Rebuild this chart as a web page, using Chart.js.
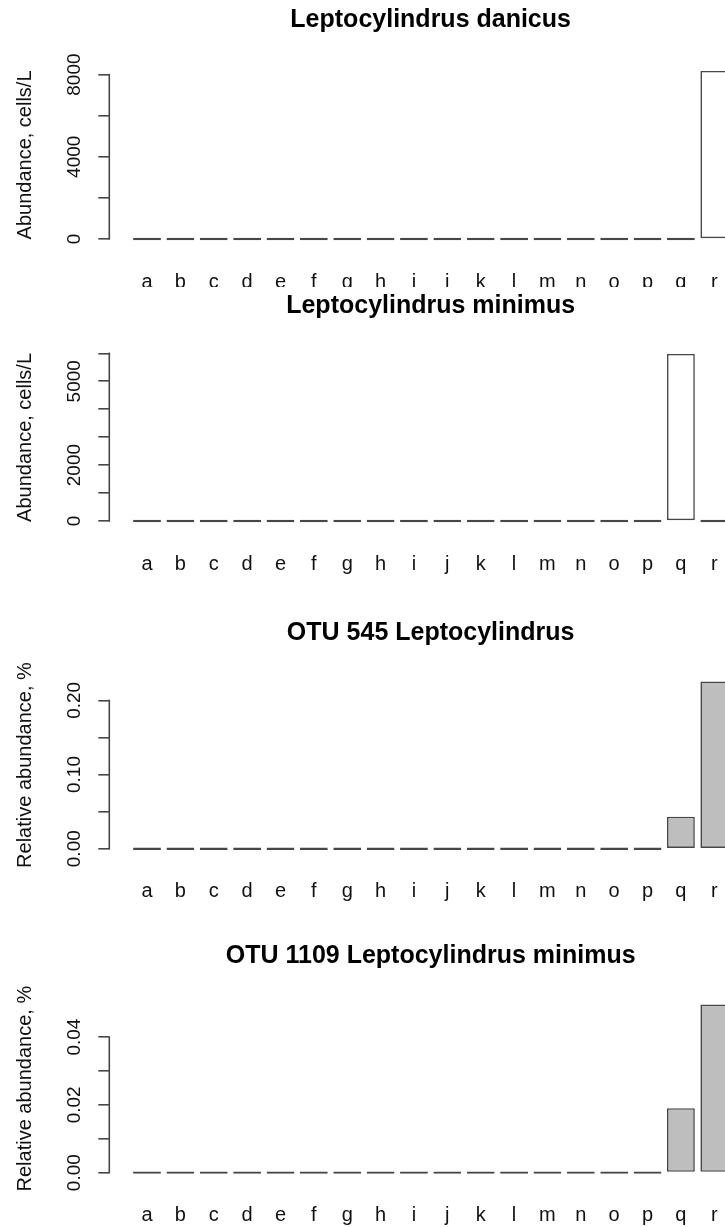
<!DOCTYPE html>
<html>
<head>
<meta charset="utf-8">
<script src="https://cdn.jsdelivr.net/npm/chart.js@4.4.1/dist/chart.umd.min.js"></script>
<style>
  html, body { margin: 0; padding: 0; background: #fff; overflow: hidden; }
  #page { position: relative; width: 725px; height: 1227px; overflow: hidden; background: #fff; }
  .panel { position: absolute; left: 0; width: 725px; overflow: hidden; background: #fff; }
  .panel canvas { position: absolute; left: 0; top: 0; }
</style>
</head>
<body>
<div id="page"></div>
<script>
// Sampling sites, one bar each
const categories = ['a','b','c','d','e','f','g','h','i','j','k','l','m','n','o','p','q','r'];

// Microscopy counts, cells/L
const danicusCells = [0,0,0,0,0,0,0,0,0,0,0,0,0,0,0,0,0,8180];
const minimusCells = [0,0,0,0,0,0,0,0,0,0,0,0,0,0,0,0,5980,0];

// Sequencing reads, relative abundance in %
const otu545Rel  = [0,0,0,0,0,0,0,0,0,0,0,0,0,0,0,0,0.0431,0.2256];
const otu1109Rel = [0,0,0,0,0,0,0,0,0,0,0,0,0,0,0,0,0.0190,0.0496];

// Y tick positions and the labels printed next to them
const danicusTicks  = [0, 2000, 4000, 6000, 8000];
const danicusLabels = ['0', '', '4000', '', '8000'];
const minimusTicks  = [0, 1000, 2000, 3000, 4000, 5000, 6000];
const minimusLabels = ['0', '', '2000', '', '', '5000', ''];
const otu545Ticks   = [0, 0.05, 0.10, 0.15, 0.20];
const otu545Labels  = ['0.00', '', '0.10', '', '0.20'];
const otu1109Ticks  = [0, 0.01, 0.02, 0.03, 0.04];
const otu1109Labels = ['0.00', '', '0.02', '', '0.04'];

const titles = ['Leptocylindrus danicus', 'Leptocylindrus minimus',
                'OTU 545 Leptocylindrus', 'OTU 1109 Leptocylindrus minimus'];
const yTitles = ['Abundance, cells/L', 'Abundance, cells/L',
                 'Relative abundance, %', 'Relative abundance, %'];

const FONT = '"Liberation Sans", Arial, Helvetica, sans-serif';
const INK = '#111';
const LINE = '#474747';
const TICK_SIZE = 19;

Chart.defaults.font.family = FONT;
Chart.defaults.color = INK;

// Draws the axis line only between the first and last tick, base-graphics style
const spinePlugin = {
  id: 'rSpine',
  afterDraw(chart) {
    const s = chart.scales.y;
    const t = s.ticks;
    const y0 = s.getPixelForValue(t[0].value);
    const y1 = s.getPixelForValue(t[t.length - 1].value);
    const ctx = chart.ctx;
    ctx.save();
    ctx.strokeStyle = LINE;
    ctx.lineWidth = 1.6;
    ctx.beginPath();
    ctx.moveTo(s.right, y0 + 0.8);
    ctx.lineTo(s.right, y1 - 0.8);
    ctx.stroke();
    ctx.restore();
  }
};

function widestText(labels, size) {
  const c = document.createElement('canvas').getContext('2d');
  c.font = size + 'px ' + FONT;
  return Math.max(...labels.map(l => c.measureText(l).width));
}

// Panel frames: where each figure sits on the page, where its plot region lies
// and where the title line is centred (all relative to the panel top)
const frames = [
  { top: 0,   height: 287, canvasH: 300, plotTop: 64.2, plotBottom: 245.7, titleY: 20 },
  { top: 287, height: 313, canvasH: 313, plotTop: 60.2, plotBottom: 240.7, titleY: 19 },
  { top: 600, height: 330, canvasH: 330, plotTop: 74.7, plotBottom: 255.4, titleY: 33 },
  { top: 930, height: 297, canvasH: 297, plotTop: 67.8, plotBottom: 249.4, titleY: 26 }
];

const series = [danicusCells, minimusCells, otu545Rel, otu1109Rel];
const tickSets = [danicusTicks, minimusTicks, otu545Ticks, otu1109Ticks];
const labelSets = [danicusLabels, minimusLabels, otu545Labels, otu1109Labels];
const fills = ['#ffffff', '#ffffff', '#bebebe', '#bebebe'];

const CANVAS_W = 752;
const AXIS_W = 109.3;
const X_PAD = 1.13; // extra room (in bar slots) beyond the first and last bar
const TITLE_SIZE = 25;

const page = document.getElementById('page');

function noSidePadding(s) {
  s.paddingLeft = 0;
  s.paddingRight = 0;
}

series.forEach((values, k) => {
  const f = frames[k];
  const div = document.createElement('div');
  div.className = 'panel';
  div.style.top = f.top + 'px';
  div.style.height = f.height + 'px';
  const cv = document.createElement('canvas');
  cv.width = CANVAS_W;
  cv.height = f.canvasH;
  cv.style.width = CANVAS_W + 'px';
  cv.style.height = f.canvasH + 'px';
  div.appendChild(cv);
  page.appendChild(div);

  const vmax = Math.max(...values);
  const ticks = tickSets[k];
  const tlabels = labelSets[k];
  const tickPad = 23.9 - widestText(tlabels, TICK_SIZE) / 2;
  const xMin = -X_PAD, xMax = categories.length - 1 + X_PAD;

  new Chart(cv, {
    type: 'bar',
    data: {
      datasets: [{
        data: categories.map((c, i) => ({ x: i, y: values[i] })),
        backgroundColor: fills[k],
        borderColor: LINE,
        borderWidth: 1.6,
        borderSkipped: false,
        minBarLength: 2.4,
        barPercentage: 1 / 1.2,
        categoryPercentage: 1,
        xAxisID: 'x',
        yAxisID: 'y'
      }]
    },
    options: {
      responsive: false,
      animation: false,
      layout: { padding: 0 },
      plugins: { legend: { display: false }, tooltip: { enabled: false } },
      scales: {
        x: {
          type: 'linear',
          position: 'bottom',
          offset: false,
          bounds: 'data',
          min: xMin, max: xMax,
          afterBuildTicks: s => { s.ticks = categories.map((c, i) => ({ value: i })); },
          afterFit: s => { s.height = f.canvasH - f.plotBottom; noSidePadding(s); },
          border: { display: false },
          grid: { display: false, offset: false },
          ticks: {
            autoSkip: false, maxRotation: 0, minRotation: 0,
            padding: 16.5,
            font: { size: 20 }, color: INK,
            callback: (v, i) => categories[i]
          }
        },
        xt: {
          type: 'linear',
          position: 'top',
          display: true,
          offset: false,
          min: xMin, max: xMax,
          afterFit: s => { s.height = f.plotTop; noSidePadding(s); },
          border: { display: false },
          grid: { display: false },
          ticks: { display: false },
          title: {
            display: true,
            text: titles[k],
            color: '#000',
            font: { size: TITLE_SIZE, weight: 'bold' },
            padding: { top: f.titleY - TITLE_SIZE * 0.6, bottom: 0 }
          }
        },
        y: {
          type: 'linear',
          position: 'left',
          min: -0.04 * vmax,
          max: 1.04 * vmax,
          afterBuildTicks: s => { s.ticks = ticks.map(v => ({ value: v })); },
          afterFit: s => { s.width = AXIS_W; },
          border: { display: false },
          grid: { drawOnChartArea: false, drawTicks: true, tickLength: 11, color: LINE, lineWidth: 1.6 },
          ticks: {
            autoSkip: false,
            minRotation: 90, maxRotation: 90,
            crossAlign: 'center',
            padding: tickPad,
            font: { size: TICK_SIZE }, color: INK,
            callback: (v, i) => tlabels[i]
          },
          title: {
            display: true,
            text: yTitles[k],
            color: INK,
            font: { size: 20 },
            padding: { top: 13.8, bottom: 0 }
          }
        }
      }
    },
    plugins: [spinePlugin]
  });
});
</script>
</body>
</html>
